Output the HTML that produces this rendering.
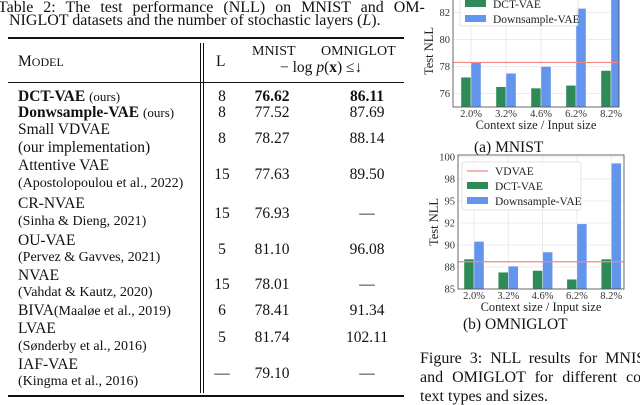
<!DOCTYPE html>
<html><head><meta charset="utf-8">
<style>
body{margin:0;width:640px;height:405px;overflow:hidden;background:#fff;position:relative;font-family:"Liberation Serif",serif;color:#111}
.t{position:absolute;white-space:nowrap;font-size:15.5px;line-height:1}
.c{transform:translateX(-50%)}
.rule{position:absolute;background:#111}
svg text{font-family:"Liberation Serif",serif}
</style></head><body>
<div class="t" style="left:-2px;top:0px;font-size:16px;word-spacing:6px">Table 2: The test performance (NLL) on MNIST and OM-</div>
<div class="t" style="left:9px;top:13px;font-size:16px">NIGLOT datasets and the number of stochastic layers (<i>L</i>).</div>
<div class="rule" style="left:8px;top:37px;width:396px;height:1.5px"></div>
<div class="rule" style="left:8px;top:82px;width:396px;height:1px"></div>
<div class="rule" style="left:8px;top:395px;width:396px;height:1.5px"></div>
<div class="rule" style="left:200px;top:43px;width:1px;height:350px"></div>
<div class="rule" style="left:203px;top:43px;width:1px;height:350px"></div>
<div class="t" style="left:18px;top:54px">M<span style="font-size:12px">ODEL</span></div>
<div class="t" style="left:216px;top:54px">L</div>
<div class="t" style="left:252px;top:45px;font-size:14px">MNIST</div>
<div class="t" style="left:321px;top:45px;font-size:14px">OMNIGLOT</div>
<div class="t" style="left:280px;top:60px">− log <i>p</i>(<b>x</b>) ≤↓</div>

<div class="t" style="left:18px;top:89px"><b>DCT-VAE</b> <span style="font-size:13px">(ours)</span></div>
<div class="t" style="left:18px;top:105px"><b>Donwsample-VAE</b> <span style="font-size:13px">(ours)</span></div>
<div class="t" style="left:18px;top:122px">Small VDVAE</div>
<div class="t" style="left:18px;top:140px">(our implementation)</div>
<div class="t" style="left:18px;top:158px">Attentive VAE</div>
<div class="t" style="left:18px;top:177px;font-size:14px">(Apostolopoulou et al., 2022)</div>
<div class="t" style="left:18px;top:196px">CR-NVAE</div>
<div class="t" style="left:18px;top:215px;font-size:14px">(Sinha &amp; Dieng, 2021)</div>
<div class="t" style="left:18px;top:233px">OU-VAE</div>
<div class="t" style="left:18px;top:251px;font-size:14px">(Pervez &amp; Gavves, 2021)</div>
<div class="t" style="left:18px;top:268px">NVAE</div>
<div class="t" style="left:18px;top:286px;font-size:14px">(Vahdat &amp; Kautz, 2020)</div>
<div class="t" style="left:18px;top:303px">BIVA<span style="font-size:14px">(Maaløe et al., 2019)</span></div>
<div class="t" style="left:18px;top:321px">LVAE</div>
<div class="t" style="left:18px;top:340px;font-size:14px">(Sønderby et al., 2016)</div>
<div class="t" style="left:18px;top:357px">IAF-VAE</div>
<div class="t" style="left:18px;top:375px;font-size:14px">(Kingma et al., 2016)</div>

<div id="vals"></div>

<svg width="640" height="405" style="position:absolute;left:0;top:0">
<g id="chartA"></g>
<g id="chartB"></g>
</svg>
<div class="t" style="left:474px;top:140px;font-size:15.5px">(a) MNIST</div>
<div class="t" style="left:463px;top:317px;font-size:15.5px">(b) OMNIGLOT</div>
<div class="t" style="left:420px;top:351px;font-size:16px;word-spacing:4px">Figure 3: NLL results for MNIST</div>
<div class="t" style="left:420px;top:370px;font-size:16px;word-spacing:5px">and OMIGLOT for different con-</div>
<div class="t" style="left:420px;top:389px;font-size:16px">text types and sizes.</div>

<script>
// table values
const rowL = ["8","8","8","15","15","5","15","6","5","—"];
const rowMnist = ["76.62","77.52","78.27","77.63","76.93","81.10","78.01","78.41","81.74","79.10"];
const rowOmni = ["86.11","87.69","88.14","89.50","—","96.08","—","91.34","102.11","—"];
const rowTop = [89,105,131,167,206,242,277,303,330,366];
const vals=document.getElementById('vals');
for(let i=0;i<rowL.length;i++){
  const cols=[[rowL[i],222],[rowMnist[i],272],[rowOmni[i],367]];
  cols.forEach((c,j)=>{
    const d=document.createElement('div');
    d.className='t c';
    
    
    d.style.left=c[1]+'px';d.style.top=rowTop[i]+'px';
    if(i===0&&j>0)d.style.fontWeight='bold';
    d.textContent=c[0];vals.appendChild(d);
  });
}

const categories=["2.0%","3.2%","4.6%","6.2%","8.2%"];
const mnistDct=[77.2,76.5,76.4,76.6,77.7];
const mnistDown=[78.3,77.5,78.0,82.3,84.0];
const mnistVdvae=78.3;
const mnistTicks=[76,78,80,82];
const mnistTickLabels=["76","78","80","82"];
const omniDct=[88.4,86.9,87.1,86.1,88.4];
const omniDown=[90.4,87.6,89.2,92.4,99.3];
const omniVdvae=88.1;
const omniTicks=[85,87.5,90,92.5,95,97.5,100];
const omniTickLabels=["85","88","90","92","95","98","100"];

const NS="http://www.w3.org/2000/svg";
function el(g,tag,a,txt){const e=document.createElementNS(NS,tag);for(const k in a)e.setAttribute(k,a[k]);if(txt!==undefined)e.textContent=txt;g.appendChild(e);return e;}

function chart(g,o){
  const y=v=>o.y0-(v-o.vmin)*o.k;
  const x=i=>o.xc0+i*o.dx;
  const clipId=o.id+'clip';
  const defs=el(g,'defs',{});
  const cp=el(defs,'clipPath',{id:clipId});
  el(cp,'rect',{x:o.xl,y:o.yt,width:o.xr-o.xl,height:o.y0-o.yt});
  const bg=el(g,'rect',{x:o.xl,y:o.yt,width:o.xr-o.xl,height:o.y0-o.yt,fill:'#fff',stroke:'none'});
  
  
  o.ticks.forEach((t,i)=>{
    const gl=el(g,'line',{x1:o.xl,x2:o.xr,y1:y(t),y2:y(t),stroke:'#e6e6e6','stroke-width':0.8});
    
    
    const tl=el(g,'text',{x:o.xl-3,y:y(t)+3.5,'text-anchor':'end','font-size':10.5,fill:'#333'},o.labels[i]);
    
    
  });
  categories.forEach((c,i)=>{
    const gl=el(g,'line',{x1:x(i),x2:x(i),y1:o.yt,y2:o.y0,stroke:'#e6e6e6','stroke-width':0.8});
    
    
    const tl=el(g,'text',{x:x(i),y:o.y0+10,'text-anchor':'middle','font-size':10.5,fill:'#333'},c);
    
    
  });
  const bars=el(g,'g',{'clip-path':'url(#'+clipId+')'});
  categories.forEach((c,i)=>{
    const b1=el(bars,'rect',{x:x(i)-o.bw,y:y(o.dct[i]),width:o.bw,height:o.y0-y(o.dct[i]),fill:'#2e8b57',stroke:'#fff','stroke-width':0.4});
    
    
    const b2=el(bars,'rect',{x:x(i),y:y(o.down[i]),width:o.bw,height:o.y0-y(o.down[i]),fill:'#6495ed',stroke:'#fff','stroke-width':0.4});
    
    
  });
  const vl=el(g,'line',{x1:o.xl,x2:o.xr,y1:y(o.vd),y2:y(o.vd),stroke:'#f4877f','stroke-width':1.2});
  
  
  const fr=el(g,'rect',{x:o.xl,y:o.yt,width:o.xr-o.xl,height:o.y0-o.yt,fill:'none',stroke:'#444','stroke-width':0.8});
  
  
  const yt=el(g,'text',{x:0,y:0,'text-anchor':'middle','font-size':12.5,fill:'#222',transform:`translate(${o.xl-20},${(o.yt+o.y0)/2}) rotate(-90)`},'Test NLL');
  
  
  const xt=el(g,'text',{x:(o.xl+o.xr)/2,y:o.y0+22,'text-anchor':'middle','font-size':12.5,fill:'#222'},'Context size / Input size');
  
  
  const lg=el(g,'g',{});
  
  
  el(lg,'rect',{x:o.lx,y:o.ly,width:o.lw,height:o.lh,rx:2,fill:'#fff','fill-opacity':0.85,stroke:'#ddd','stroke-width':0.8});
  let ey=o.ly+9;
  if(o.showVd){
    el(lg,'line',{x1:o.lx+5,x2:o.lx+26,y1:ey,y2:ey,stroke:'#f4877f','stroke-width':1.2});
    const t=el(lg,'text',{x:o.lx+33,y:ey+4,'font-size':11.5,fill:'#222'},'VDVAE');
    
    
    ey+=15;
  }
  el(lg,'rect',{x:o.lx+5,y:ey-4,width:21,height:7,fill:'#2e8b57'});
  const t1=el(lg,'text',{x:o.lx+33,y:ey+4,'font-size':11.5,fill:'#222'},'DCT-VAE');
  
  
  ey+=15;
  el(lg,'rect',{x:o.lx+5,y:ey-4,width:21,height:7,fill:'#6495ed'});
  const t2=el(lg,'text',{x:o.lx+33,y:ey+4,'font-size':11.5,fill:'#222'},'Downsample-VAE');
  
  
}
chart(document.getElementById('chartA'),{id:'a',xl:453,xr:619,yt:-5,y0:107,vmin:75,k:13.5,xc0:471,dx:35,bw:10,
  dct:mnistDct,down:mnistDown,vd:mnistVdvae,ticks:mnistTicks,labels:mnistTickLabels,lx:460,ly:-20,lw:118,lh:46,showVd:true});
chart(document.getElementById('chartB'),{id:'b',xl:458,xr:624,yt:155,y0:289,vmin:85,k:8.8,xc0:474,dx:34.3,bw:10,
  dct:omniDct,down:omniDown,vd:omniVdvae,ticks:omniTicks,labels:omniTickLabels,lx:462,ly:162,lw:119,lh:48,showVd:true});
</script>
</body></html>
